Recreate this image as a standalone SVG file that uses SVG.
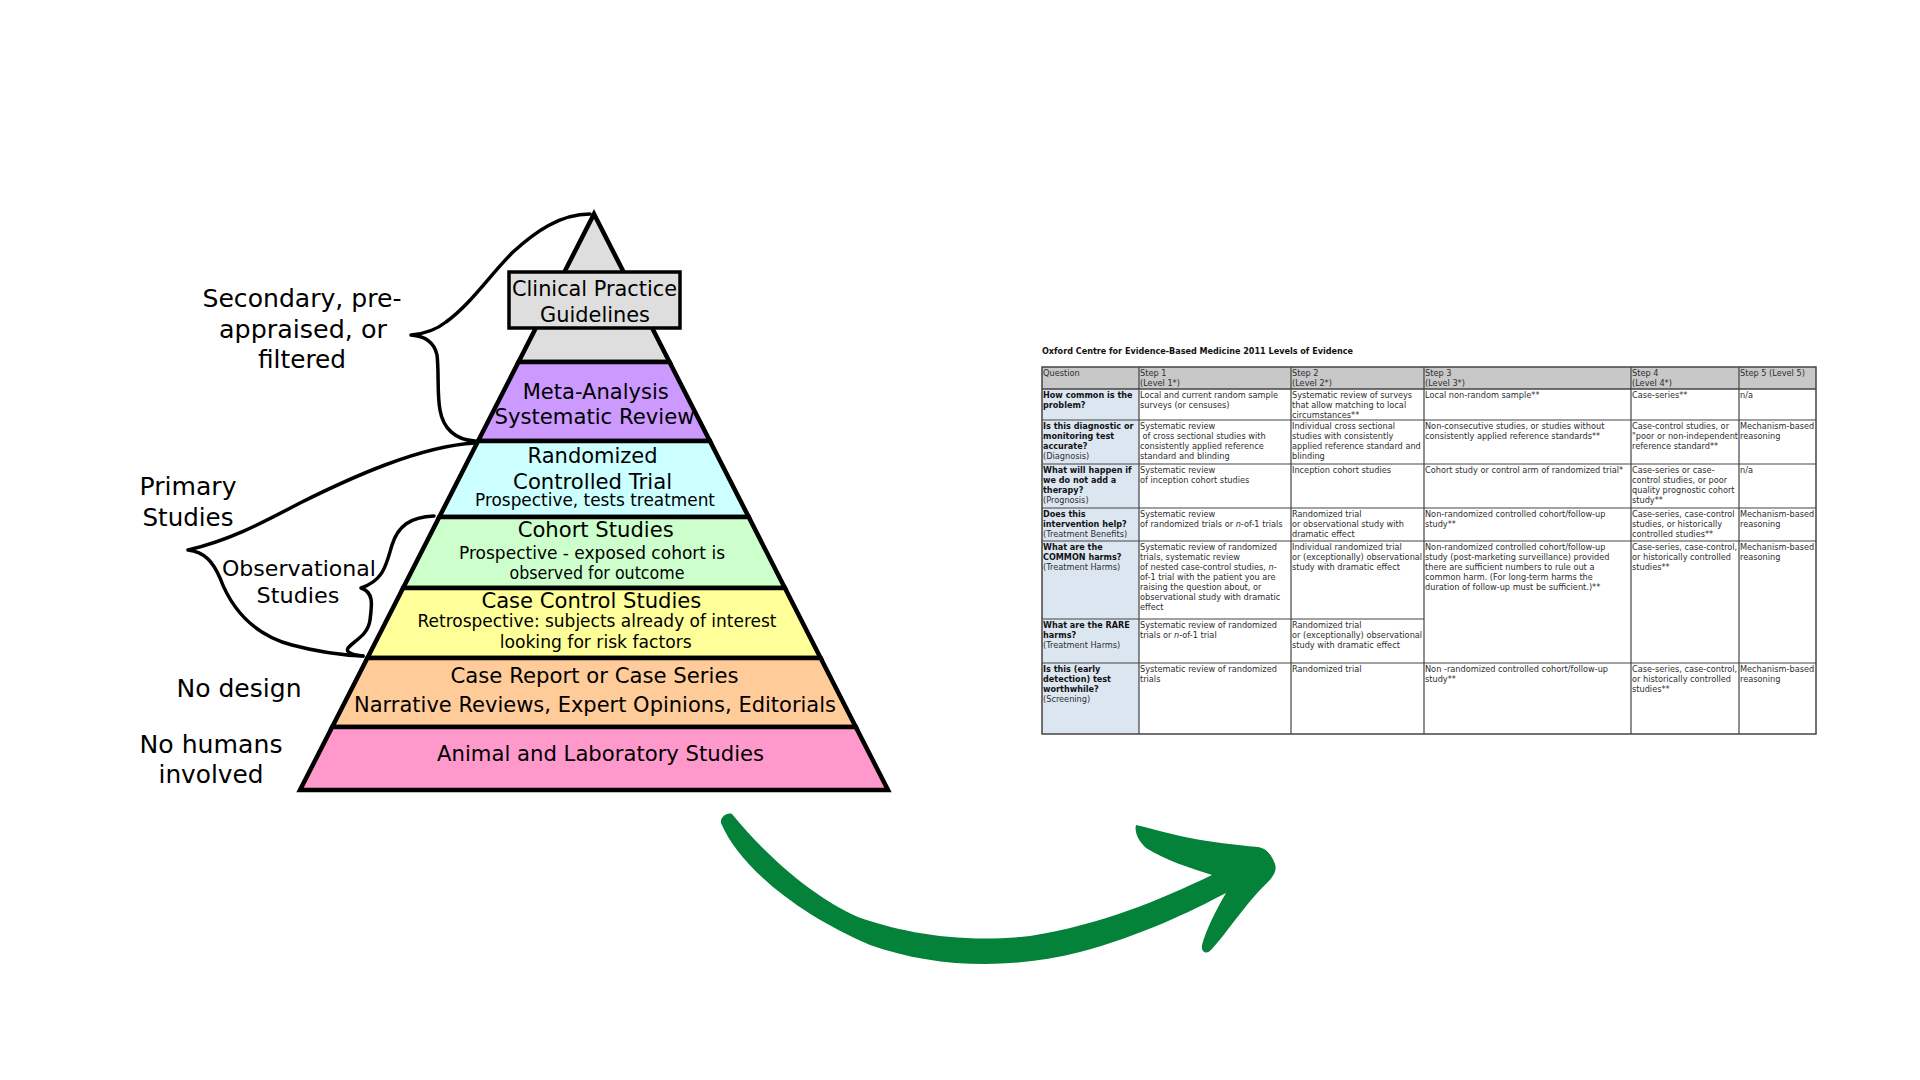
<svg xmlns="http://www.w3.org/2000/svg" width="1920" height="1080" viewBox="0 0 1920 1080">
<style>
.band{stroke:#000;stroke-width:4.5;stroke-linejoin:miter}
.pt{font-family:"DejaVu Sans","Liberation Sans",sans-serif;font-size:21px;fill:#000;text-anchor:middle}
.ps{font-family:"DejaVu Sans","Liberation Sans",sans-serif;font-size:17px;fill:#000;text-anchor:middle}
.lb{font-family:"DejaVu Sans","Liberation Sans",sans-serif;font-size:25px;fill:#000;text-anchor:middle}
.lo{font-family:"DejaVu Sans","Liberation Sans",sans-serif;font-size:22px;fill:#000;text-anchor:middle}
.brace{fill:none;stroke:#000;stroke-width:3.5;stroke-linecap:round;stroke-linejoin:round}
.tt{font-family:"DejaVu Sans","Liberation Sans",sans-serif;font-size:8.2px;fill:#2e2e2e}
.tb{font-family:"DejaVu Sans","Liberation Sans",sans-serif;font-size:8.1px;font-weight:bold;fill:#111}
.grid{stroke:#444;stroke-width:1.2;fill:none}
</style>
<rect width="1920" height="1080" fill="#fff"/>

<g id="pyramid">
  <g id="band-top"><polygon class="band" fill="#dedede" points="594,214 669.5,362 518.5,362"/></g>
  <g id="band-meta"><polygon class="band" fill="#cc99ff" points="518.5,362 669.5,362 709.9,441 478.1,441"/>
    <text class="pt" x="595.7" y="398.5" textLength="146" lengthAdjust="spacingAndGlyphs">Meta-Analysis</text>
    <text class="pt" x="594.5" y="424" textLength="200" lengthAdjust="spacingAndGlyphs">Systematic Review</text></g>
  <g id="band-rct"><polygon class="band" fill="#ccffff" points="478.1,441 709.9,441 748.7,517 439.3,517"/>
    <text class="pt" x="592.6" y="463" textLength="130" lengthAdjust="spacingAndGlyphs">Randomized</text>
    <text class="pt" x="592.6" y="489" textLength="159" lengthAdjust="spacingAndGlyphs">Controlled Trial</text>
    <text class="ps" x="595" y="506" textLength="240" lengthAdjust="spacingAndGlyphs">Prospective, tests treatment</text></g>
  <g id="band-cohort"><polygon class="band" fill="#ccffcc" points="439.3,517 748.7,517 784.9,588 403.1,588"/>
    <text class="pt" x="595.7" y="537" textLength="156" lengthAdjust="spacingAndGlyphs">Cohort Studies</text>
    <text class="ps" x="592" y="559" textLength="266" lengthAdjust="spacingAndGlyphs">Prospective - exposed cohort is</text>
    <text class="ps" x="597" y="579" textLength="175" lengthAdjust="spacingAndGlyphs">observed for outcome</text></g>
  <g id="band-casecontrol"><polygon class="band" fill="#ffff99" points="403.1,588 784.9,588 820.6,658 367.4,658"/>
    <text class="pt" x="591.4" y="608" textLength="220" lengthAdjust="spacingAndGlyphs">Case Control Studies</text>
    <text class="ps" x="597" y="627" textLength="359" lengthAdjust="spacingAndGlyphs">Retrospective: subjects already of interest</text>
    <text class="ps" x="595.7" y="648" textLength="192" lengthAdjust="spacingAndGlyphs">looking for risk factors</text></g>
  <g id="band-casereport"><polygon class="band" fill="#ffcc99" points="367.4,658 820.6,658 855.8,727 332.2,727"/>
    <text class="pt" x="594.5" y="683" textLength="288" lengthAdjust="spacingAndGlyphs">Case Report or Case Series</text>
    <text class="pt" x="595" y="712" textLength="482" lengthAdjust="spacingAndGlyphs">Narrative Reviews, Expert Opinions, Editorials</text></g>
  <g id="band-animal"><polygon class="band" fill="#ff99cc" points="332.2,727 855.8,727 888,790 300,790"/>
    <text class="pt" x="600.6" y="761" textLength="327" lengthAdjust="spacingAndGlyphs">Animal and Laboratory Studies</text></g>
  <g id="guidelines"><rect x="509" y="272" width="171" height="56" fill="#dedede" stroke="#000" stroke-width="3.5"/>
    <text class="pt" x="594.5" y="296" textLength="165" lengthAdjust="spacingAndGlyphs">Clinical Practice</text>
    <text class="pt" x="595" y="322" textLength="110" lengthAdjust="spacingAndGlyphs">Guidelines</text></g>
</g>

<g id="connectors">
  <path class="brace" d="M590,214 C560,214 535,232 513,252 C490,275 470,305 446,322 C436,330 423,334 411,335 C424,336 434,341 437,355 C439,370 437,395 440,410 C443,428 455,440 475,441"/>
  <path class="brace" d="M475,443 C420,446 350,478 300,503 C260,524 230,540 188,550 C205,552 213,562 220,578 C232,610 255,635 292,645 C318,652 340,655 363,656"/>
  <path class="brace" d="M434,516 C410,517 398,526 392,545 C386,565 384,580 361,588 C374,592 372,605 370,620 C368,635 355,640 348,648 C345,652 352,655 363,656"/>
  <path id="green-arrow" fill="#04823a" d="M721,823 C740,868 800,915 870,945 C935,968 1010,970 1080,952 C1140,936 1190,912 1226,893 C1216,910 1206,930 1202,945 C1201,952 1206,955 1211,950 C1225,935 1245,905 1262,888 C1270,880 1278,873 1275,864 C1272,855 1266,848 1258,847 C1235,845 1210,842 1190,838 C1170,834 1150,828 1136,825 C1134,832 1139,842 1146,848 C1165,860 1190,868 1212,875 C1160,900 1100,925 1030,936 C960,944 900,932 858,917 C815,898 768,858 732,814 C727,812 720,817 721,823 Z"/>
</g>

<g id="labels">
  <g id="label-secondary">
    <text class="lb" x="302" y="307" textLength="199" lengthAdjust="spacingAndGlyphs">Secondary, pre-</text>
    <text class="lb" x="303" y="338" textLength="168" lengthAdjust="spacingAndGlyphs">appraised, or</text>
    <text class="lb" x="302" y="368" textLength="88" lengthAdjust="spacingAndGlyphs">filtered</text>
  </g>
  <g id="label-primary">
    <text class="lb" x="188" y="495" textLength="97" lengthAdjust="spacingAndGlyphs">Primary</text>
    <text class="lb" x="188" y="526" textLength="91" lengthAdjust="spacingAndGlyphs">Studies</text>
  </g>
  <g id="label-observational">
    <text class="lo" x="299" y="576" textLength="154" lengthAdjust="spacingAndGlyphs">Observational</text>
    <text class="lo" x="298" y="603" textLength="83" lengthAdjust="spacingAndGlyphs">Studies</text>
  </g>
  <g id="label-nodesign"><text class="lb" x="239" y="697" textLength="125" lengthAdjust="spacingAndGlyphs">No design</text></g>
  <g id="label-nohumans">
    <text class="lb" x="211" y="753" textLength="143" lengthAdjust="spacingAndGlyphs">No humans</text>
    <text class="lb" x="211" y="783" textLength="105" lengthAdjust="spacingAndGlyphs">involved</text>
  </g>
</g>

<g id="table">
  <text class="tb" x="1042" y="354" textLength="311" lengthAdjust="spacingAndGlyphs">Oxford Centre for Evidence-Based Medicine 2011 Levels of Evidence</text>
  <rect x="1042" y="367" width="774" height="22" fill="#c8c8c8"/>
  <rect x="1042" y="389" width="97" height="345" fill="#dce6f1"/>
  <g class="grid">
    <rect x="1042" y="367" width="774" height="367" stroke-width="1.5"/>
    <line x1="1139" y1="367" x2="1139" y2="734"/>
    <line x1="1291" y1="367" x2="1291" y2="734"/>
    <line x1="1424" y1="367" x2="1424" y2="734"/>
    <line x1="1631" y1="367" x2="1631" y2="734"/>
    <line x1="1739" y1="367" x2="1739" y2="734"/>
    <line x1="1042" y1="389" x2="1816" y2="389" stroke-width="1.5"/>
    <line x1="1042" y1="420" x2="1816" y2="420"/>
    <line x1="1042" y1="464" x2="1816" y2="464"/>
    <line x1="1042" y1="508" x2="1816" y2="508"/>
    <line x1="1042" y1="541" x2="1816" y2="541"/>
    <line x1="1042" y1="619" x2="1424" y2="619"/>
    <line x1="1042" y1="663" x2="1816" y2="663"/>
  </g>
  <!-- header -->
  <text class="tt"><tspan x="1043" y="376">Question</tspan></text>
  <text class="tt"><tspan x="1140" y="376">Step 1</tspan><tspan x="1140" y="386">(Level 1*)</tspan></text>
  <text class="tt"><tspan x="1292" y="376">Step 2</tspan><tspan x="1292" y="386">(Level 2*)</tspan></text>
  <text class="tt"><tspan x="1425" y="376">Step 3</tspan><tspan x="1425" y="386">(Level 3*)</tspan></text>
  <text class="tt"><tspan x="1632" y="376">Step 4</tspan><tspan x="1632" y="386">(Level 4*)</tspan></text>
  <text class="tt"><tspan x="1740" y="376">Step 5 (Level 5)</tspan></text>
  <!-- row 1 -->
  <text class="tb"><tspan x="1043" y="398">How common is the</tspan><tspan x="1043" y="408">problem?</tspan></text>
  <text class="tt"><tspan x="1140" y="398">Local and current random sample</tspan><tspan x="1140" y="408">surveys (or censuses)</tspan></text>
  <text class="tt"><tspan x="1292" y="398">Systematic review of surveys</tspan><tspan x="1292" y="408">that allow matching to local</tspan><tspan x="1292" y="418">circumstances**</tspan></text>
  <text class="tt"><tspan x="1425" y="398">Local non-random sample**</tspan></text>
  <text class="tt"><tspan x="1632" y="398">Case-series**</tspan></text>
  <text class="tt"><tspan x="1740" y="398">n/a</tspan></text>
  <!-- row 2 -->
  <text class="tb"><tspan x="1043" y="429">Is this diagnostic or</tspan><tspan x="1043" y="439">monitoring test</tspan><tspan x="1043" y="449">accurate?</tspan></text>
  <text class="tt"><tspan x="1043" y="459">(Diagnosis)</tspan></text>
  <text class="tt"><tspan x="1140" y="429">Systematic review</tspan><tspan x="1142.5" y="439">of cross sectional studies with</tspan><tspan x="1140" y="449">consistently applied reference</tspan><tspan x="1140" y="459">standard and blinding</tspan></text>
  <text class="tt"><tspan x="1292" y="429">Individual cross sectional</tspan><tspan x="1292" y="439">studies with consistently</tspan><tspan x="1292" y="449">applied reference standard and</tspan><tspan x="1292" y="459">blinding</tspan></text>
  <text class="tt"><tspan x="1425" y="429">Non-consecutive studies, or studies without</tspan><tspan x="1425" y="439">consistently applied reference standards**</tspan></text>
  <text class="tt"><tspan x="1632" y="429">Case-control studies, or</tspan><tspan x="1632" y="439">"poor or non-independent</tspan><tspan x="1632" y="449">reference standard**</tspan></text>
  <text class="tt"><tspan x="1740" y="429">Mechanism-based</tspan><tspan x="1740" y="439">reasoning</tspan></text>
  <!-- row 3 -->
  <text class="tb"><tspan x="1043" y="473">What will happen if</tspan><tspan x="1043" y="483">we do not add a</tspan><tspan x="1043" y="493">therapy?</tspan></text>
  <text class="tt"><tspan x="1043" y="503">(Prognosis)</tspan></text>
  <text class="tt"><tspan x="1140" y="473">Systematic review</tspan><tspan x="1140" y="483">of inception cohort studies</tspan></text>
  <text class="tt"><tspan x="1292" y="473">Inception cohort studies</tspan></text>
  <text class="tt"><tspan x="1425" y="473">Cohort study or control arm of randomized trial*</tspan></text>
  <text class="tt"><tspan x="1632" y="473">Case-series or case-</tspan><tspan x="1632" y="483">control studies, or poor</tspan><tspan x="1632" y="493">quality prognostic cohort</tspan><tspan x="1632" y="503">study**</tspan></text>
  <text class="tt"><tspan x="1740" y="473">n/a</tspan></text>
  <!-- row 4 -->
  <text class="tb"><tspan x="1043" y="517">Does this</tspan><tspan x="1043" y="527">intervention help?</tspan></text>
  <text class="tt"><tspan x="1043" y="537">(Treatment Benefits)</tspan></text>
  <text class="tt"><tspan x="1140" y="517">Systematic review</tspan><tspan x="1140" y="527">of randomized trials or <tspan font-style="italic">n</tspan>-of-1 trials</tspan></text>
  <text class="tt"><tspan x="1292" y="517">Randomized trial</tspan><tspan x="1292" y="527">or observational study with</tspan><tspan x="1292" y="537">dramatic effect</tspan></text>
  <text class="tt"><tspan x="1425" y="517">Non-randomized controlled cohort/follow-up</tspan><tspan x="1425" y="527">study**</tspan></text>
  <text class="tt"><tspan x="1632" y="517">Case-series, case-control</tspan><tspan x="1632" y="527">studies, or historically</tspan><tspan x="1632" y="537">controlled studies**</tspan></text>
  <text class="tt"><tspan x="1740" y="517">Mechanism-based</tspan><tspan x="1740" y="527">reasoning</tspan></text>
  <!-- row 5 -->
  <text class="tb"><tspan x="1043" y="550">What are the</tspan><tspan x="1043" y="560">COMMON harms?</tspan></text>
  <text class="tt"><tspan x="1043" y="570">(Treatment Harms)</tspan></text>
  <text class="tt"><tspan x="1140" y="550">Systematic review of randomized</tspan><tspan x="1140" y="560">trials, systematic review</tspan><tspan x="1140" y="570">of nested case-control studies, <tspan font-style="italic">n</tspan>-</tspan><tspan x="1140" y="580">of-1 trial with the patient you are</tspan><tspan x="1140" y="590">raising the question about, or</tspan><tspan x="1140" y="600">observational study with dramatic</tspan><tspan x="1140" y="610">effect</tspan></text>
  <text class="tt"><tspan x="1292" y="550">Individual randomized trial</tspan><tspan x="1292" y="560">or (exceptionally) observational</tspan><tspan x="1292" y="570">study with dramatic effect</tspan></text>
  <text class="tt"><tspan x="1425" y="550">Non-randomized controlled cohort/follow-up</tspan><tspan x="1425" y="560">study (post-marketing surveillance) provided</tspan><tspan x="1425" y="570">there are sufficient numbers to rule out a</tspan><tspan x="1425" y="580">common harm. (For long-term harms the</tspan><tspan x="1425" y="590">duration of follow-up must be sufficient.)**</tspan></text>
  <text class="tt"><tspan x="1632" y="550">Case-series, case-control,</tspan><tspan x="1632" y="560">or historically controlled</tspan><tspan x="1632" y="570">studies**</tspan></text>
  <text class="tt"><tspan x="1740" y="550">Mechanism-based</tspan><tspan x="1740" y="560">reasoning</tspan></text>
  <!-- row 6 -->
  <text class="tb"><tspan x="1043" y="628">What are the RARE</tspan><tspan x="1043" y="638">harms?</tspan></text>
  <text class="tt"><tspan x="1043" y="648">(Treatment Harms)</tspan></text>
  <text class="tt"><tspan x="1140" y="628">Systematic review of randomized</tspan><tspan x="1140" y="638">trials or <tspan font-style="italic">n</tspan>-of-1 trial</tspan></text>
  <text class="tt"><tspan x="1292" y="628">Randomized trial</tspan><tspan x="1292" y="638">or (exceptionally) observational</tspan><tspan x="1292" y="648">study with dramatic effect</tspan></text>
  <!-- row 7 -->
  <text class="tb"><tspan x="1043" y="672">Is this (early</tspan><tspan x="1043" y="682">detection) test</tspan><tspan x="1043" y="692">worthwhile?</tspan></text>
  <text class="tt"><tspan x="1043" y="702">(Screening)</tspan></text>
  <text class="tt"><tspan x="1140" y="672">Systematic review of randomized</tspan><tspan x="1140" y="682">trials</tspan></text>
  <text class="tt"><tspan x="1292" y="672">Randomized trial</tspan></text>
  <text class="tt"><tspan x="1425" y="672">Non -randomized controlled cohort/follow-up</tspan><tspan x="1425" y="682">study**</tspan></text>
  <text class="tt"><tspan x="1632" y="672">Case-series, case-control,</tspan><tspan x="1632" y="682">or historically controlled</tspan><tspan x="1632" y="692">studies**</tspan></text>
  <text class="tt"><tspan x="1740" y="672">Mechanism-based</tspan><tspan x="1740" y="682">reasoning</tspan></text>
</g>
</svg>
